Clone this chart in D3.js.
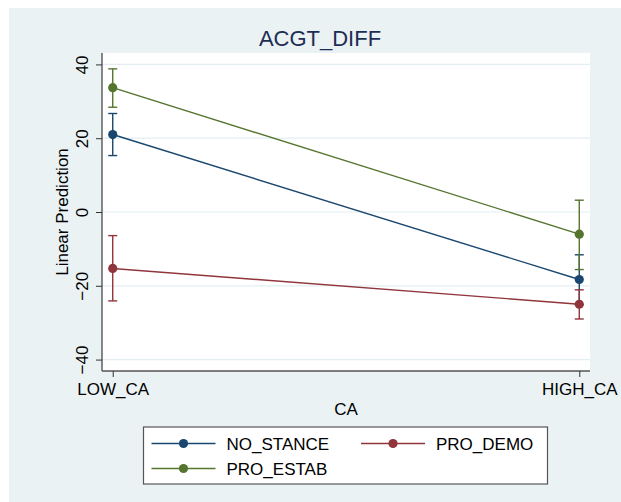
<!DOCTYPE html>
<meta charset="utf-8">
<style>
  body { margin: 0; background: #fff; }
  text { font-family: "Liberation Sans", Arial, sans-serif; fill: #000; }
</style>
<body>
<script src="https://cdn.jsdelivr.net/npm/d3@7"></script>
<script>
// data
var categories = ["LOW_CA", "HIGH_CA"];
var seriesNames = ["NO_STANCE", "PRO_DEMO", "PRO_ESTAB"];
var noStance  = [21.0, -18.3];
var noStanceLo = [15.3, -25.1];
var noStanceHi = [26.7, -11.6];
var proDemo   = [-15.3, -25.0];
var proDemoLo = [-24.1, -29.0];
var proDemoHi = [-6.4, -21.1];
var proEstab  = [33.7, -6.0];
var proEstabLo = [28.4, -15.6];
var proEstabHi = [38.8, 3.2];
var yTicks = [-40, -20, 0, 20, 40];

var colors = ["#1a476f", "#90353b", "#55752f"];

var series = [
  {name: seriesNames[0], v: noStance, lo: noStanceLo, hi: noStanceHi, color: colors[0]},
  {name: seriesNames[1], v: proDemo, lo: proDemoLo, hi: proDemoHi, color: colors[1]},
  {name: seriesNames[2], v: proEstab, lo: proEstabLo, hi: proEstabHi, color: colors[2]}
];

var W = 621, H = 502;
var plot = {left: 102, right: 590, top: 53, bottom: 371};

var svg = d3.select("body").append("svg")
    .attr("width", W)
    .attr("height", H);

// outer background
svg.append("rect")
    .attr("x", 9).attr("y", 8)
    .attr("width", W - 9).attr("height", H - 8)
    .attr("fill", "#eaf2f3");

svg.append("rect")
    .attr("x", plot.left).attr("y", plot.top)
    .attr("width", plot.right - plot.left).attr("height", plot.bottom - plot.top)
    .attr("fill", "#fff");

var x = d3.scalePoint()
    .domain(categories)
    .range([plot.left, plot.right])
    .padding(0.023);

var y = d3.scaleLinear()
    .domain([-43.1, 43.1])
    .range([plot.bottom, plot.top]);

// grid lines
svg.append("g")
  .selectAll("line")
  .data(yTicks).enter()
  .append("line")
    .attr("x1", plot.left).attr("x2", plot.right)
    .attr("y1", function(d) { return y(d); })
    .attr("y2", function(d) { return y(d); })
    .attr("stroke", "#e4eef2")
    .attr("stroke-width", 1.2);

// y axis
var yAxis = d3.axisLeft(y).tickValues(yTicks).tickSize(6).tickSizeOuter(0).tickPadding(8);
var gy = svg.append("g")
    .attr("transform", "translate(" + plot.left + ",0)")
    .call(yAxis);
gy.select(".domain").attr("stroke", "#555").attr("stroke-width", 1.4)
    .attr("d", "M0," + plot.top + "V" + plot.bottom);
gy.selectAll(".tick line").attr("stroke", "#333");
gy.selectAll(".tick text")
    .attr("font-size", 17)
    .attr("text-anchor", "middle")
    .attr("dy", 0)
    .attr("x", 0)
    .attr("transform", "translate(-14,0) rotate(-90)");

// x axis
var xAxis = d3.axisBottom(x).tickSize(6).tickSizeOuter(0).tickPadding(6);
var gx = svg.append("g")
    .attr("transform", "translate(0," + plot.bottom + ")")
    .call(xAxis);
gx.select(".domain").attr("stroke", "#555").attr("stroke-width", 1.4)
    .attr("d", "M" + plot.left + ",0H" + plot.right);
gx.selectAll(".tick line").attr("stroke", "#333");
gx.selectAll(".tick text").attr("font-size", 17);

// titles
svg.append("text")
    .attr("x", 320)
    .attr("y", 46)
    .attr("text-anchor", "middle")
    .attr("font-size", 22)
    .style("fill", "#1e2d53")
    .text("ACGT_DIFF");

svg.append("text")
    .attr("transform", "translate(68," + ((plot.top + plot.bottom) / 2) + ") rotate(-90)")
    .attr("text-anchor", "middle")
    .attr("font-size", 17)
    .text("Linear Prediction");

svg.append("text")
    .attr("x", (plot.left + plot.right) / 2)
    .attr("y", 415)
    .attr("text-anchor", "middle")
    .attr("font-size", 17)
    .text("CA");

// lines
var line = d3.line()
    .x(function(d, i) { return x(categories[i]); })
    .y(function(d) { return y(d); });

svg.selectAll(".series")
    .data(series).enter()
    .append("path").attr("class", "series")
    .attr("d", function(s) { return line(s.v); })
    .attr("fill", "none")
    .attr("stroke", function(s) { return s.color; })
    .attr("stroke-width", 1.4);

// error bars
var capW = 4.5;
series.forEach(function(s) {
  var g = svg.append("g");
  categories.forEach(function(c, i) {
    var cx = x(c);
    g.append("line")
        .attr("x1", cx).attr("x2", cx)
        .attr("y1", y(s.lo[i])).attr("y2", y(s.hi[i]))
        .attr("stroke", s.color).attr("stroke-width", 1.4);
    [s.lo[i], s.hi[i]].forEach(function(v) {
      g.append("line")
          .attr("x1", cx - capW).attr("x2", cx + capW)
          .attr("y1", y(v)).attr("y2", y(v))
          .attr("stroke", s.color).attr("stroke-width", 1.4);
    });
  });
});

// points
series.forEach(function(s) {
  svg.append("g").selectAll("circle")
    .data(s.v).enter()
    .append("circle")
      .attr("cx", function(d, i) { return x(categories[i]); })
      .attr("cy", function(d) { return y(d); })
      .attr("r", 4.6)
      .attr("fill", s.color);
});

// legend
var legend = svg.append("g");
legend.append("rect")
    .attr("x", 143.5).attr("y", 427)
    .attr("width", 404).attr("height", 57)
    .attr("fill", "#fff")
    .attr("stroke", "#555")
    .attr("stroke-width", 1.2);

var legendPos = [[151.5, 443.5], [361, 443.5], [151.5, 468.5]];
series.forEach(function(s, i) {
  var p = legendPos[i];
  var lg = legend.append("g").attr("transform", "translate(" + p[0] + "," + p[1] + ")");
  lg.append("line")
      .attr("x1", 0).attr("x2", 64)
      .attr("stroke", s.color).attr("stroke-width", 1.4);
  lg.append("circle")
      .attr("cx", 32).attr("r", 4.6)
      .attr("fill", s.color);
  lg.append("text")
      .attr("x", 75).attr("dy", "0.36em")
      .attr("font-size", 17)
      .text(s.name);
});
</script>
</body>
</html>
